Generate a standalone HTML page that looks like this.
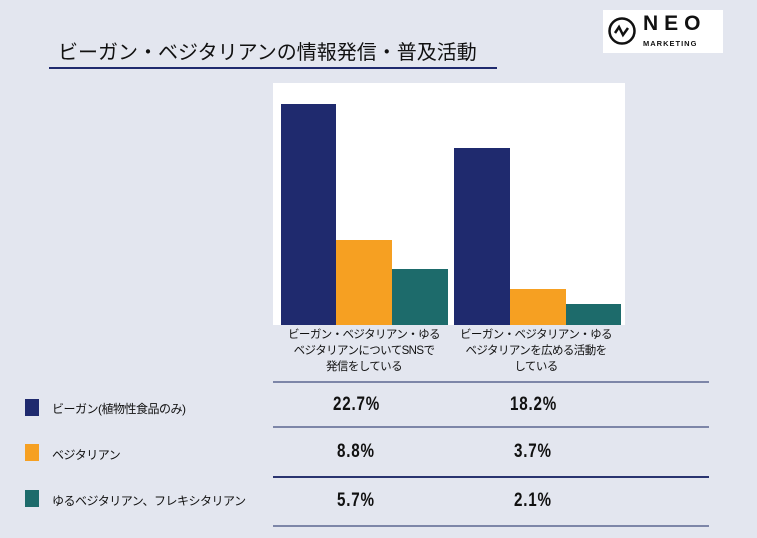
<!DOCTYPE html><html><head><meta charset="utf-8"><style>
body{margin:0;width:757px;height:538px;background:#e3e6ef;position:relative;overflow:hidden;font-family:"Liberation Sans","Noto Sans CJK JP",sans-serif;color:#111}
.a{position:absolute}
.bar{position:absolute;bottom:213px}
.n{background:#1f2a6e}.o{background:#f6a022}.t{background:#1d6b6b}
.hl{position:absolute;left:273px;width:436px;height:2px;background:#7d86a8}
.lab{position:absolute;font-size:11.5px;text-align:center;line-height:16px;width:180px;letter-spacing:-0.6px}
.v{position:absolute;font-size:19px;font-weight:bold;font-family:"Liberation Sans Narrow","Liberation Sans",sans-serif;letter-spacing:1px;transform:scaleX(0.8);transform-origin:left}
.lg{position:absolute;left:25px;width:14px;height:17px}
.lt{position:absolute;left:52px;font-size:12px;letter-spacing:-0.5px}
</style></head><body>
<div class="a" style="left:58px;top:36px;font-size:20px;">ビーガン・ベジタリアンの情報発信・普及活動</div>
<div class="a" style="left:49px;top:67px;width:448px;height:2px;background:#1f2a6e"></div>
<div class="a" style="left:603px;top:10px;width:120px;height:43px;background:#fff">
<svg class="a" style="left:4px;top:6px" width="30" height="30"><circle cx="15" cy="15" r="12.5" fill="none" stroke="#111" stroke-width="2.5"/><path d="M8 17 L12 11 L16 19 L21 12" fill="none" stroke="#111" stroke-width="2.5"/></svg>
<div class="a" style="left:40px;top:2px;font-size:21px;font-weight:bold;letter-spacing:6px">NEO</div>
<div class="a" style="left:40px;top:29px;font-size:7.5px;font-weight:bold;letter-spacing:1px">MARKETING</div>
</div>
<div class="a" style="left:273px;top:83px;width:352px;height:242px;background:#fff"></div>
<div class="bar n" style="left:281px;width:55px;top:104px;height:221px"></div>
<div class="bar o" style="left:336px;width:56px;top:240px;height:85px"></div>
<div class="bar t" style="left:392px;width:56px;top:269px;height:56px"></div>
<div class="bar n" style="left:454px;width:56px;top:148px;height:177px"></div>
<div class="bar o" style="left:510px;width:56px;top:289px;height:36px"></div>
<div class="bar t" style="left:566px;width:55px;top:304px;height:21px"></div>
<div class="lab" style="left:274px;top:327px">ビーガン・ベジタリアン・ゆる<br>ベジタリアンについてSNSで<br>発信をしている</div>
<div class="lab" style="left:446px;top:327px">ビーガン・ベジタリアン・ゆる<br>ベジタリアンを広める活動を<br>している</div>
<div class="hl" style="top:381px"></div><div class="hl" style="top:426px"></div><div class="hl" style="top:476px;background:#2a3470"></div><div class="hl" style="top:525px"></div>
<div class="lg n" style="top:399px"></div><div class="lt" style="top:400px">ビーガン(植物性食品のみ)</div>
<div class="lg o" style="top:444px"></div><div class="lt" style="top:446px">ベジタリアン</div>
<div class="lg t" style="top:490px"></div><div class="lt" style="top:492px">ゆるベジタリアン、フレキシタリアン</div>
<div class="v" style="left:333px;top:394px">22.7%</div><div class="v" style="left:510px;top:394px">18.2%</div>
<div class="v" style="left:337px;top:441px">8.8%</div><div class="v" style="left:514px;top:441px">3.7%</div>
<div class="v" style="left:337px;top:490px">5.7%</div><div class="v" style="left:514px;top:490px">2.1%</div>
</body></html>
